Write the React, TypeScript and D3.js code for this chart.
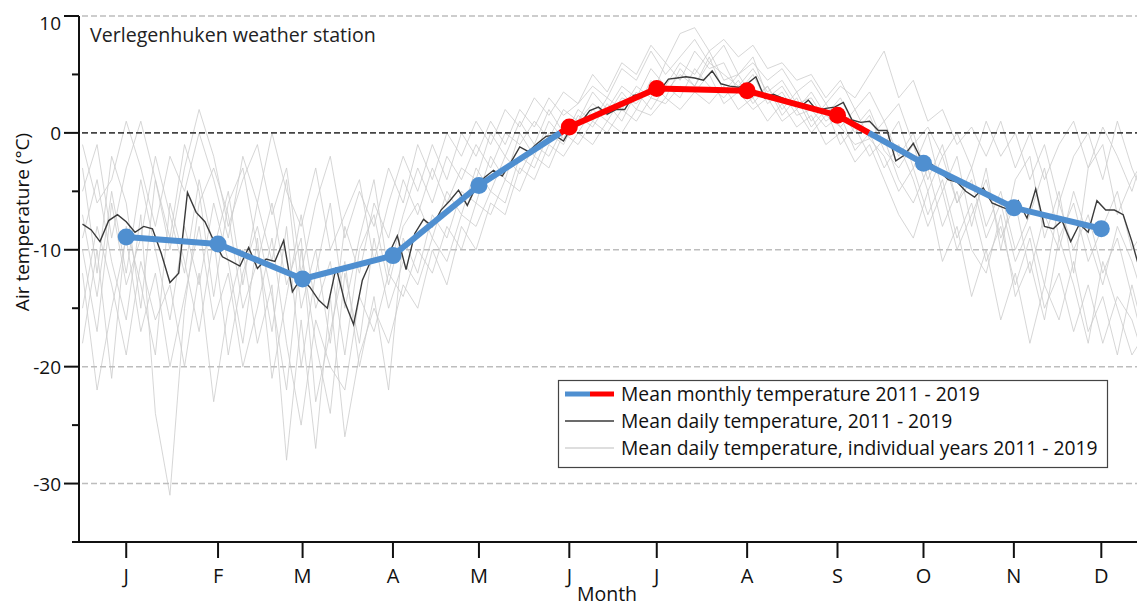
import React, {useEffect, useRef} from 'react';
import * as d3 from 'd3';

// month markers (day of year) as placed on the original axis
const monthLabels = ['J', 'F', 'M', 'A', 'M', 'J', 'J', 'A', 'S', 'O', 'N', 'D'];
const monthMidDays = [15, 46.5, 75.5, 106.5, 136, 167, 197, 228, 259, 288.5, 319.5, 349.5];
const monthlyMean = [-8.9, -9.5, -12.5, -10.5, -4.5, 0.5, 3.8, 3.6, 1.5, -2.6, -6.4, -8.2];

// mean daily temperature 2011-2019, one value every 3 days from day 0
const dailyStep = 3;
const dailyMean = [
    -7.8, -8.3, -9.3, -7.5, -7.0, -7.6, -8.5, -8.0, -8.2, -10.3,
    -12.8, -12.0, -5.1, -6.8, -7.6, -9.2, -10.6, -11.0, -11.4, -9.8,
    -11.6, -10.8, -11.0, -9.2, -13.6, -12.4, -13.2, -14.3, -15.0, -11.5,
    -14.5, -16.4, -12.6, -10.9, -10.8, -10.4, -8.8, -11.7, -8.6, -7.4,
    -8.0, -6.6, -5.8, -4.9, -6.2, -4.6, -3.8, -3.2, -3.7, -2.5,
    -1.2, -1.6, -0.9, -0.3, -0.2, -0.7, 0.6, 0.9, 1.9, 2.2,
    1.6, 2.0, 2.0, 3.2, 3.3, 3.8, 3.6, 4.6, 4.7, 4.8,
    4.7, 4.5, 5.3, 4.2, 4.0, 3.9, 4.2, 4.8, 3.0, 3.3,
    3.0, 2.7, 2.2, 2.8, 1.9, 2.1, 2.2, 2.6, 1.1, 0.9,
    1.0, 0.2, 0.2, -2.4, -1.9, -0.9, -2.4, -2.6, -3.3, -4.0,
    -4.2, -5.0, -5.5, -4.7, -6.0, -6.3, -6.6, -5.8, -7.3, -4.8,
    -8.0, -8.2, -7.5, -9.3, -7.8, -8.5, -5.8, -6.6, -6.6, -7.0,
    -9.3, -12.0
];

// individual years, one value every 5 days from day 0
const yearStep = 5;
const y2011 = [-3, -12, -2, -6, -15, -4, -9, -1, -5, -14, -6, -3, -10, -17, -8, -20, -12, -6, -15, -9, -4, -12, -7, -3, -6, -2, -4, -1, -3, 0, -1, 1, -0.5, 2, 1, 3.5, 2, 4, 3, 5.5, 4, 6, 5, 7, 4.5, 5, 6.5, 3, 4, 2, 3.5, 1.5, 3, 0.5, 2, -1, 1, -3, 0, -5, -2, -8, -3, -10, -4, -2, -9, -5, -12, -3, -1, -7, -4, -2];
const y2012 = [-18, -10, -21, -8, -13, -19, -6, -11, -17, -9, -19, -12, -8, -14, -22, -10, -18, -24, -12, -18, -9, -15, -11, -13, -9, -11, -7, -8, -5, -6, -2, -3, 0, -1, 1.5, 0.5, 2.5, 1, 3.5, 2, 4, 3, 5.5, 4, 3, 4.5, 2.5, 4, 1.5, 3, 0.5, 2, -1, 0.5, -2, -0.5, -4, -6, -3, -8, -5, -10, -12, -7, -14, -11, -16, -9, -13, -18, -11, -15, -19, -17];
const y2013 = [-1, -6, -4, 1, -3, -8, -2, -5, 0, -4, -9, -2, -6, 0, -5, -8, -3, -10, -7, -4, -11, -6, -2, -5, -1, -4, 0, -2, 1, -1, 2, 0.5, 3, 1.5, 2.5, 4, 3, 5.5, 4.5, 7, 5, 6.5, 8, 6, 7.5, 5, 6, 4.5, 5.5, 3.5, 4.5, 2.5, 4, 3, 5, 7, 3, 4.5, 1, 2, -1, 0.5, -2, 1, -3, 0, -4, -1, 1, -3, 0.5, -2, -5, -1];
const y2014 = [-12, -22, -15, -9, -17, -12, -20, -14, -8, -16, -12, -20, -15, -9, -18, -25, -16, -20, -22, -14, -17, -12, -14, -10, -12, -8, -10, -6, -7, -4, -5, -2, -3, 0, -1, 1, 0, 2, 1, 3, 2.5, 4, 3.5, 5, 2.5, 3.5, 2, 3, 1, 2, 0, 1.5, 0.5, -1, -0.5, -2, -5, -3, -7, -4, -9, -6, -11, -8, -13, -9, -15, -12, -17, -13, -18, -14, -16, -20];
const y2015 = [-9, -4, -11, -16, -7, -24, -31, -15, -6, -3, -7, -15, -11, -6, -13, -9, -23, -17, -11, -20, -14, -22, -9, -12, -7, -9, -5, -6, -2, -4, 0, -2, 1, -0.5, 2, 1, 3, 2, 4, 3, 6, 4.5, 7, 5.5, 6, 3.5, 5, 2.5, 3.5, 1.5, 2, 0.5, 1.5, -1.5, 0, -3, -1, -4, -8, -5, -10, -7, -4, -9, -6, -12, -7, -10, -5, -9, -13, -8, -11, -15];
const y2016 = [-5, -1, -9, -3, 1, -4, -10, -3, 2, -2, -8, -4, -1, -7, -3, -12, -6, -2, -9, -5, -8, -3, -6, -1, -4, 0, -2, 1, -1, 2, 0.5, 3, 1.5, 3.5, 2.5, 5, 3.5, 6, 5, 7.5, 6, 8.5, 9, 7, 8, 6.5, 7.5, 5.5, 6, 4.5, 5, 3, 4.5, 2, 3.5, 1, 2.5, -1, 0.5, -2, 0, -3, 1, -2, 0, -4, -1, -6, -2, 0, -4, 1, -3, -6];
const y2017 = [-15, -8, -13, -19, -11, -16, -13, -20, -12, -23, -15, -10, -18, -13, -28, -16, -27, -14, -26, -19, -15, -18, -13, -15, -10, -13, -8, -10, -6, -7, -3, -4, -1, -2, 0, -1, 1, 0, 2, 1.5, 3, 2, 3.5, 2.5, 4, 2, 3, 1, 2.5, 0.5, 1.5, -1, 0, -2.5, -1, -4, -7, -9, -5, -11, -8, -14, -10, -16, -12, -18, -13, -16, -11, -17, -14, -19, -13, -18];
const y2018 = [-7, -14, -5, -12, -4, -10, -16, -8, -13, -6, -11, -18, -9, -21, -14, -7, -15, -11, -19, -10, -7, -13, -8, -6, -9, -5, -7, -3, -5, -2, -3.5, -1, -2, 0.5, 0, 2, 1, 3, 2.5, 4, 3.5, 5, 4, 6, 5, 4, 5.5, 3.5, 4.5, 2.5, 3, 1, 2, 0, 1.5, -1.5, -3, -1, -5, -2, -6, -3, -8, -5, -10, -7, -3, -9, -6, -11, -8, -5, -10, -8];
const y2019 = [-10, -17, -6, -13, -9, -2, -7, -12, -4, -10, -5, -13, -6, -11, -4, -15, -10, -18, -8, -12, -6, -9, -4, -7, -3, -6, -3, -4, 0, -2, 1, -1, 2, 0, 1, 2.5, 1.5, 3.5, 2, 4.5, 3, 5.5, 4, 6.5, 3.5, 5, 3, 4, 2, 3.5, 1, 2.5, 0.5, 2, -0.5, 1, -2, 0, -4, -1, -6, -4, -9, -6, -11, -8, -13, -6, -10, -7, -12, -9, -14, -19];
const yearSeries = [y2011, y2012, y2013, y2014, y2015, y2016, y2017, y2018, y2019];

const yTicks = [10, 0, -10, -20, -30];
const yMinorTicks = [5, -5, -15, -25];

const legendItems = [
    'Mean monthly temperature 2011 - 2019',
    'Mean daily temperature, 2011 - 2019',
    'Mean daily temperature, individual years 2011 - 2019'
];

const BLUE = '#4f8fd0';
const RED = '#ff0000';
const FONT = '"Open Sans", "Noto Sans", sans-serif';

export default function App() {
    const ref = useRef(null);

    useEffect(() => {
        drawChart();
    }, []);

    function drawChart() {
        const width = 1137;
        const height = 607;
        const root = d3.select(ref.current);
        root.selectAll('*').remove();

        const svg = root
            .append('svg')
            .attr('width', width)
            .attr('height', height)
            .style('display', 'block')
            .style('background', '#fff')
            .style('font-family', FONT);

        const x = d3.scaleLinear().domain([0, 365]).range([82.5, 1146.5]);
        const y = d3.scaleLinear().domain([-35, 10]).range([542, 16]);
        const axisX = 79;

        const plot = svg.append('g');

        // individual years
        const yearLine = d3.line()
            .x((_, i) => x(i * yearStep))
            .y((d) => y(d));
        yearSeries.forEach((s) => {
            plot.append('path')
                .attr('d', yearLine(s))
                .attr('fill', 'none')
                .attr('stroke', '#cbcbcb')
                .attr('stroke-width', 0.8);
        });

        // grey dashed grid lines
        plot.selectAll('.grid')
            .data([10, -10, -20, -30])
            .enter()
            .append('line')
            .attr('x1', axisX + 3)
            .attr('x2', width)
            .attr('y1', (d) => y(d))
            .attr('y2', (d) => y(d))
            .attr('stroke', '#bdbdbd')
            .attr('stroke-width', 1.5)
            .attr('stroke-dasharray', '6,3');

        // mean daily
        const dailyLine = d3.line()
            .x((_, i) => x(i * dailyStep))
            .y((d) => y(d));
        plot.append('path')
            .attr('d', dailyLine(dailyMean))
            .attr('fill', 'none')
            .attr('stroke', '#3a3a3a')
            .attr('stroke-width', 1.4);

        // zero line
        plot.append('line')
            .attr('x1', axisX + 3)
            .attr('x2', width)
            .attr('y1', y(0))
            .attr('y2', y(0))
            .attr('stroke', '#444')
            .attr('stroke-width', 1.6)
            .attr('stroke-dasharray', '6,3');

        // mean monthly, split at zero crossings
        const pts = monthMidDays.map((d, i) => ({day: d, t: monthlyMean[i]}));
        const segs = [];
        for (let i = 0; i < pts.length - 1; i++) {
            const a = pts[i];
            const b = pts[i + 1];
            if ((a.t > 0) !== (b.t > 0)) {
                const f = a.t / (a.t - b.t);
                const c = {day: a.day + f * (b.day - a.day), t: 0};
                segs.push({p: [a, c], pos: a.t > 0});
                segs.push({p: [c, b], pos: b.t > 0});
            } else {
                segs.push({p: [a, b], pos: a.t > 0});
            }
        }
        const monthLine = d3.line()
            .x((d) => x(d.day))
            .y((d) => y(d.t));
        segs.forEach((s) => {
            plot.append('path')
                .attr('d', monthLine(s.p))
                .attr('fill', 'none')
                .attr('stroke', s.pos ? RED : BLUE)
                .attr('stroke-width', 6);
        });
        plot.selectAll('.dot')
            .data(pts)
            .enter()
            .append('circle')
            .attr('cx', (d) => x(d.day))
            .attr('cy', (d) => y(d.t))
            .attr('r', 8.5)
            .attr('fill', (d) => (d.t > 0 ? RED : BLUE));

        // axes
        const axes = svg.append('g').attr('stroke', '#111').attr('stroke-width', 2);
        axes.append('line').attr('x1', axisX).attr('x2', axisX).attr('y1', y(10)).attr('y2', y(-35));
        axes.append('line').attr('x1', 72).attr('x2', width).attr('y1', y(-35)).attr('y2', y(-35));
        yTicks.forEach((t) => {
            axes.append('line').attr('x1', axisX - 15).attr('x2', axisX).attr('y1', y(t)).attr('y2', y(t));
        });
        yMinorTicks.forEach((t) => {
            axes.append('line').attr('x1', axisX - 7).attr('x2', axisX).attr('y1', y(t)).attr('y2', y(t));
        });
        monthMidDays.forEach((d) => {
            axes.append('line').attr('x1', x(d)).attr('x2', x(d)).attr('y1', y(-35)).attr('y2', y(-35) + 16);
        });

        svg.selectAll('.ylab')
            .data(yTicks)
            .enter()
            .append('text')
            .attr('x', 61)
            .attr('y', (d) => (d === 10 ? y(d) + 14 : y(d) + 7))
            .attr('text-anchor', 'end')
            .attr('font-size', 19)
            .attr('fill', '#111')
            .text((d) => d);

        svg.selectAll('.xlab')
            .data(monthMidDays)
            .enter()
            .append('text')
            .attr('x', (d) => x(d))
            .attr('y', 583)
            .attr('text-anchor', 'middle')
            .attr('font-size', 20)
            .attr('fill', '#111')
            .text((_, i) => monthLabels[i]);

        svg.append('text')
            .attr('x', 607)
            .attr('y', 601)
            .attr('text-anchor', 'middle')
            .attr('font-size', 19.5)
            .attr('fill', '#111')
            .text('Month');

        svg.append('text')
            .attr('transform', 'translate(29,222) rotate(-90)')
            .attr('text-anchor', 'middle')
            .attr('font-size', 19)
            .attr('fill', '#111')
            .text('Air temperature (°C)');

        svg.append('text')
            .attr('x', 90)
            .attr('y', 42)
            .attr('font-size', 19.6)
            .attr('fill', '#222')
            .text('Verlegenhuken weather station');

        // legend
        const lg = svg.append('g');
        lg.append('rect')
            .attr('x', 558.5)
            .attr('y', 380.5)
            .attr('width', 549)
            .attr('height', 87)
            .attr('fill', '#fff')
            .attr('stroke', '#444')
            .attr('stroke-width', 1.2);
        const rows = [394, 421, 448];
        lg.append('line').attr('x1', 565).attr('x2', 590).attr('y1', rows[0]).attr('y2', rows[0])
            .attr('stroke', BLUE).attr('stroke-width', 5);
        lg.append('line').attr('x1', 590).attr('x2', 614).attr('y1', rows[0]).attr('y2', rows[0])
            .attr('stroke', RED).attr('stroke-width', 5);
        lg.append('line').attr('x1', 565).attr('x2', 614).attr('y1', rows[1]).attr('y2', rows[1])
            .attr('stroke', '#3a3a3a').attr('stroke-width', 1.4);
        lg.append('line').attr('x1', 565).attr('x2', 614).attr('y1', rows[2]).attr('y2', rows[2])
            .attr('stroke', '#bdbdbd').attr('stroke-width', 1);
        lg.selectAll('.lt')
            .data(legendItems)
            .enter()
            .append('text')
            .attr('x', 621)
            .attr('y', (_, i) => rows[i] + 7)
            .attr('font-size', 19.3)
            .attr('fill', '#111')
            .text((d) => d);
    }

    return <div ref={ref} style={{position: 'absolute', left: 0, top: 0}}/>;
}
